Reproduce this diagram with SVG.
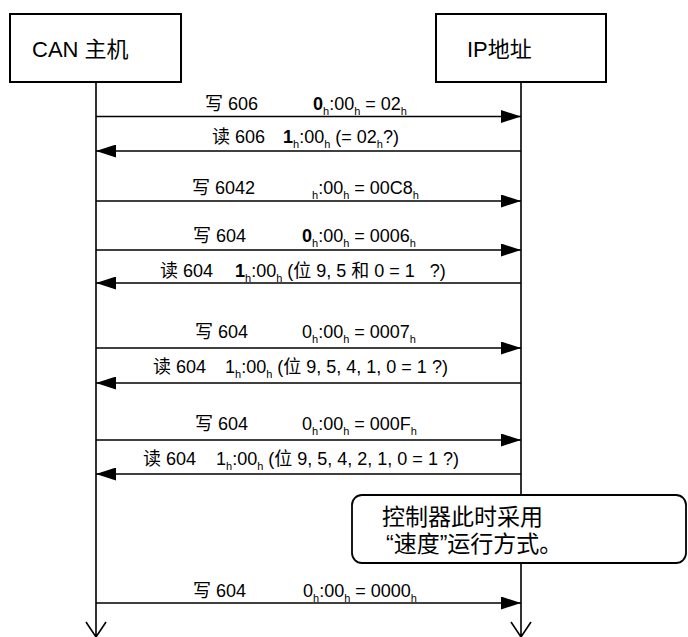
<svg xmlns="http://www.w3.org/2000/svg" width="688" height="637" viewBox="0 0 688 637">
<style>
text{font-family:"Liberation Sans","Noto Sans CJK SC",sans-serif;fill:#000;white-space:pre}
.lbl{font-size:18px}
.s{font-size:11px}
.b{font-weight:bold}
.box{fill:#fff;stroke:#000;stroke-width:2}
.life{stroke:#000;stroke-width:1.6;fill:none}
.msg{stroke:#000;stroke-width:1.6;fill:none;marker-end:url(#arr)}
.big{font-size:22px}
.note{font-size:23px}
</style>
<defs>
<marker id="arr" markerUnits="userSpaceOnUse" markerWidth="20" markerHeight="13" refX="20" refY="6.5" orient="auto">
<path d="M0,0 L20,6.5 L0,13 Z" fill="#000"/>
</marker>
</defs>
<g id="lifelines">
<path class="life" d="M96,82 V637 M86,622 L96,637 L106,622"/>
<path class="life" d="M521,82 V637 M511,622 L521,637 L531,622"/>
</g>
<g id="node-can">
<rect class="box" x="10" y="14" width="171" height="68"/>
<text class="big" x="32" y="57">CAN 主机</text>
</g>
<g id="node-ip">
<rect class="box" x="436" y="14" width="170" height="68"/>
<text class="big" x="467" y="57">IP地址</text>
</g>
<g id="connectors">
<line class="msg" x1="96" y1="116.5" x2="521" y2="116.5"/>
<line class="msg" x1="521" y1="151" x2="96" y2="151"/>
<line class="msg" x1="96" y1="201" x2="521" y2="201"/>
<line class="msg" x1="96" y1="250" x2="521" y2="250"/>
<line class="msg" x1="521" y1="283" x2="96" y2="283"/>
<line class="msg" x1="96" y1="348" x2="521" y2="348"/>
<line class="msg" x1="521" y1="383" x2="96" y2="383"/>
<line class="msg" x1="96" y1="440" x2="521" y2="440"/>
<line class="msg" x1="521" y1="474" x2="96" y2="474"/>
<line class="msg" x1="96" y1="603" x2="521" y2="603"/>
</g>
<g id="labels" class="lbl">
<text class="lbl" x="205" y="110">写 606</text>
<text class="lbl" x="313" y="110"><tspan class="b">0</tspan><tspan class="s" dy="5">h</tspan><tspan dy="-5">:00</tspan><tspan class="s" dy="5">h</tspan><tspan dy="-5"> = 02</tspan><tspan class="s" dy="5">h</tspan></text>

<text class="lbl" x="212" y="143">读 606</text>
<text class="lbl" x="283" y="143"><tspan class="b">1</tspan><tspan class="s" dy="5">h</tspan><tspan dy="-5">:00</tspan><tspan class="s" dy="5">h</tspan><tspan dy="-5"> (= 02</tspan><tspan class="s" dy="5">h</tspan><tspan dy="-5">?)</tspan></text>

<text class="lbl" x="192" y="194">写 6042</text>
<text class="lbl" x="312" y="194"><tspan class="s" dy="5">h</tspan><tspan dy="-5">:00</tspan><tspan class="s" dy="5">h</tspan><tspan dy="-5"> = 00C8</tspan><tspan class="s" dy="5">h</tspan></text>

<text class="lbl" x="193" y="242">写 604</text>
<text class="lbl" x="302" y="242"><tspan class="b">0</tspan><tspan class="s" dy="5">h</tspan><tspan dy="-5">:00</tspan><tspan class="s" dy="5">h</tspan><tspan dy="-5"> = 0006</tspan><tspan class="s" dy="5">h</tspan></text>

<text class="lbl" x="160" y="277">读 604</text>
<text class="lbl" x="235" y="277"><tspan class="b">1</tspan><tspan class="s" dy="5">h</tspan><tspan dy="-5">:00</tspan><tspan class="s" dy="5">h</tspan><tspan dy="-5"> (位 9, 5 和 0 = 1   ?)</tspan></text>

<text class="lbl" x="195" y="338">写 604</text>
<text class="lbl" x="302" y="338">0<tspan class="s" dy="5">h</tspan><tspan dy="-5">:00</tspan><tspan class="s" dy="5">h</tspan><tspan dy="-5"> = 0007</tspan><tspan class="s" dy="5">h</tspan></text>

<text class="lbl" x="153" y="373">读 604</text>
<text class="lbl" x="225" y="373">1<tspan class="s" dy="5">h</tspan><tspan dy="-5">:00</tspan><tspan class="s" dy="5">h</tspan><tspan dy="-5"> (位 9, 5, 4, 1, 0 = 1 ?)</tspan></text>

<text class="lbl" x="195" y="430">写 604</text>
<text class="lbl" x="302" y="430">0<tspan class="s" dy="5">h</tspan><tspan dy="-5">:00</tspan><tspan class="s" dy="5">h</tspan><tspan dy="-5"> = 000F</tspan><tspan class="s" dy="5">h</tspan></text>

<text class="lbl" x="143" y="465">读 604</text>
<text class="lbl" x="216" y="465">1<tspan class="s" dy="5">h</tspan><tspan dy="-5">:00</tspan><tspan class="s" dy="5">h</tspan><tspan dy="-5"> (位 9, 5, 4, 2, 1, 0 = 1 ?)</tspan></text>

<text class="lbl" x="193" y="597">写 604</text>
<text class="lbl" x="303" y="597">0<tspan class="s" dy="5">h</tspan><tspan dy="-5">:00</tspan><tspan class="s" dy="5">h</tspan><tspan dy="-5"> = 0000</tspan><tspan class="s" dy="5">h</tspan></text>
</g>
<g id="note">
<rect x="352" y="495" width="334" height="68" rx="10" fill="#fff" stroke="#000" stroke-width="1.8"/>
<text class="note" x="382" y="525">控制器此时采用</text>
<text class="note" x="386" y="552">“速度”运行方式。</text>
</g>
</svg>
